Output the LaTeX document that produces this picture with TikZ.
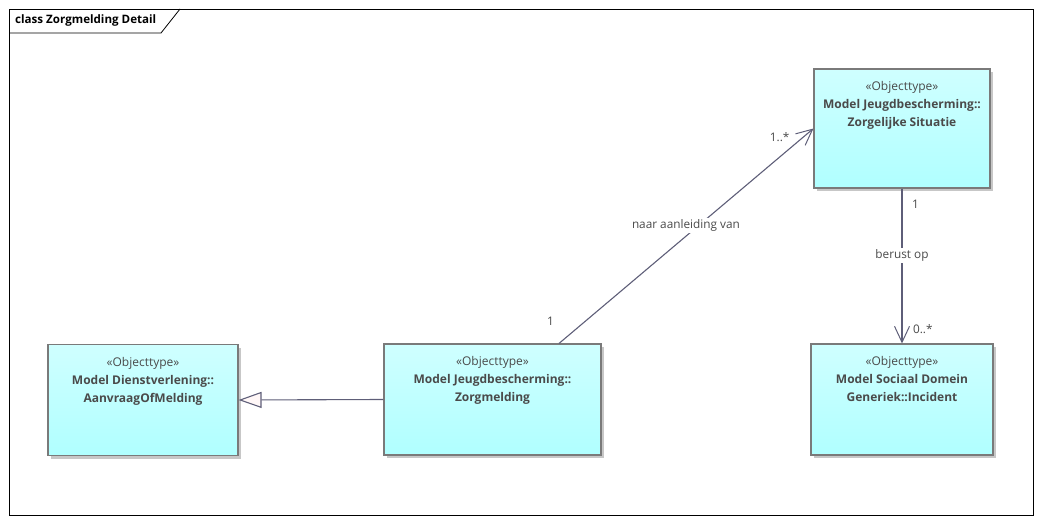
\documentclass[tikz,border=0pt]{standalone}
\usepackage{fontspec}
\setmainfont{Open Sans}
\usetikzlibrary{
	positioning,
	arrows.meta,
	shadows
}
\definecolor{boxlight}{HTML}{CFFFFF}
\definecolor{boxfill}{HTML}{B0FFFF}
\definecolor{boxline}{HTML}{7A7A7A}
\definecolor{linkcolor}{HTML}{5E5E78}
\definecolor{labelcolor}{HTML}{4A4A4A}
\tikzset{
	classbox/.style={
		draw=boxline,
		line width=1.1pt,
		top color=boxlight,
		bottom color=boxfill,
		drop shadow={shadow xshift=3pt, shadow yshift=-3pt, fill=black!22, opacity=1},
		inner sep=0pt
	},
	classtext/.style={
		text=labelcolor,
		align=center,
		anchor=north,
		inner sep=0pt,
		font=\fontsize{12}{18}\selectfont
	},
	assoc/.style={
		-{Straight Barb[length=16pt,width=15pt,line width=1pt]},
		color=linkcolor,
		line width=1.1pt
	},
	generalize/.style={
		-{Triangle[open,length=23pt,width=16pt,fill=red!3]},
		color=linkcolor,
		line width=1.1pt
	},
	linklabel/.style={
		text=labelcolor,
		inner sep=1.5pt,
		font=\fontsize{11.8}{13}\selectfont
	}
}
\newcommand{\stereo}{«Objecttype»}

\begin{document}
\begin{tikzpicture}[x=1pt, y=1pt]
		\useasboundingbox (0,0) rectangle (1041,523);
		
		% Frame
		\draw[black, line width=0.8pt] (9,8) rectangle (1033,514);
		\draw[black, line width=0.8pt] (9,490) -- (161,490) -- (180,514);
		\node[anchor=west, inner sep=0pt, font=\fontsize{11.6}{13}\selectfont\bfseries] (title) at (15,502.5) {class Zorgmelding Detail};
		
		% Classes
		\node[classbox, minimum width=190pt, minimum height=111pt] (aanvraag) at (143,123) {};
		\node[classtext, below=13pt of aanvraag.north] {\stereo\\\textbf{Model Dienstverlening::}\\\textbf{AanvraagOfMelding}};
		
		\node[classbox, minimum width=217pt, minimum height=111pt] (zorg) at (492.5,123.5) {};
		\node[classtext, below=13pt of zorg.north] {\stereo\\\textbf{Model Jeugdbescherming::}\\\textbf{Zorgmelding}};
		
		\node[classbox, minimum width=176pt, minimum height=119pt] (situatie) at (902,394.5) {};
		\node[classtext, below=13pt of situatie.north] {\stereo\\\textbf{Model Jeugdbescherming::}\\\textbf{Zorgelijke Situatie}};
		
		\node[classbox, minimum width=182pt, minimum height=111pt] (incident) at (902,123.5) {};
		\node[classtext, below=13pt of incident.north] {\stereo\\\textbf{Model Sociaal Domein}\\\textbf{Generiek::Incident}};
		
		% Generalization
		\draw[generalize] (zorg.west) -- (aanvraag.east);
		
		% naar aanleiding van
		\draw[assoc] ([xshift=66.5pt]zorg.north) -- (situatie.west)
		node[linklabel, pos=0.55, xshift=-13pt, fill=white] {naar aanleiding van}
		node[linklabel, pos=0, anchor=south east, xshift=-3pt, yshift=16pt] {1}
		node[linklabel, pos=1, anchor=east, xshift=-22pt, yshift=-9pt] {1..*};
		
		% berust op
		\draw[assoc] (situatie.south -| incident.north) -- (incident.north)
		node[linklabel, pos=0.43, fill=white] {berust op}
		node[linklabel, pos=0, anchor=north west, xshift=8pt, yshift=-9pt] {1}
		node[linklabel, pos=1, anchor=south west, xshift=9pt, yshift=8pt] {0..*};
		
	\end{tikzpicture}
\end{document}
